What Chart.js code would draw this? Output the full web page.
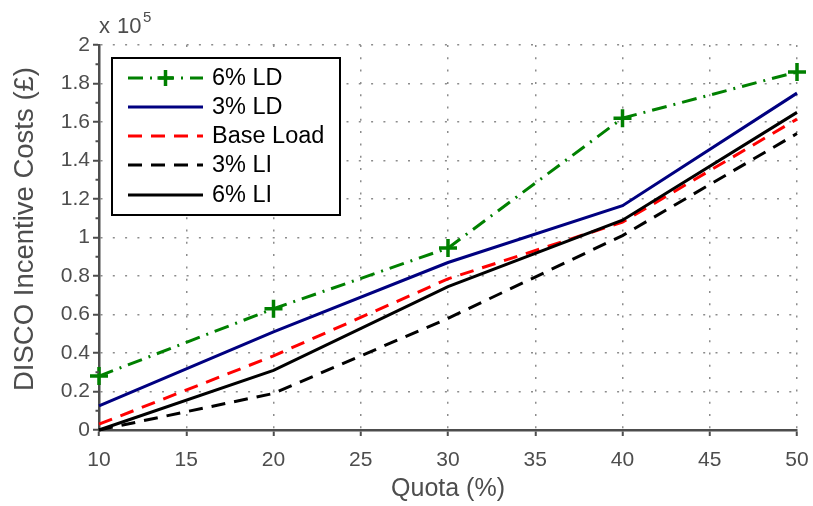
<!DOCTYPE html>
<html lang="en">
<head>
<meta charset="UTF-8">
<title>DISCO Incentive Costs vs Quota</title>
<script src="https://cdn.jsdelivr.net/npm/chart.js@4"></script>
<style>
    body { margin: 0; background: #fff; }
    #wrap { width: 813px; height: 506px; }
</style>
</head>
<body>
<div id="wrap"><canvas id="costChart" width="813" height="506"></canvas></div>
<script>
// values in units of 10^5 pounds
var quota = [10, 20, 30, 40, 50];
var ld6 = [0.28, 0.63, 0.945, 1.62, 1.86];
var ld3 = [0.125, 0.51, 0.87, 1.165, 1.75];
var baseLoad = [0.03, 0.385, 0.785, 1.08, 1.615];
var li3 = [0.0, 0.19, 0.58, 1.01, 1.54];
var li6 = [0.0, 0.31, 0.745, 1.09, 1.65];
var names = ['6% LD', '3% LD', 'Base Load', '3% LI', '6% LI'];

var fontFam = '"Liberation Sans", Arial, Helvetica, sans-serif';
var gray = '#4d4d4d';

function pts(vals) {
    return quota.map(function (q, i) { return { x: q, y: vals[i] }; });
}

var styles = [
    { color: '#008000', dash: [15, 7, 2, 7], marker: true },
    { color: '#000080', dash: [] },
    { color: '#ff0000', dash: [14, 9] },
    { color: '#000000', dash: [14, 9] },
    { color: '#000000', dash: [] }
];
var series = [ld6, ld3, baseLoad, li3, li6];

var datasets = series.map(function (vals, i) {
    var s = styles[i];
    return {
        label: names[i],
        data: pts(vals),
        borderColor: s.color,
        backgroundColor: s.color,
        borderWidth: 3,
        borderDash: s.dash,
        tension: 0,
        fill: false,
        pointStyle: 'cross',
        pointRadius: s.marker ? 9 : 0,
        pointBorderWidth: 3.5,
        pointBorderColor: s.color,
        clip: false,
        order: 4 - i
    };
});

// y title, y minor ticks, "x 10^5" and the boxed legend
var extras = {
    id: 'extras',
    afterDraw: function (chart) {
        var ctx = chart.ctx;
        var ys = chart.scales.y;
        var left = chart.chartArea.left;
        ctx.save();

        ctx.strokeStyle = gray;
        ctx.lineWidth = 2;
        for (var v = 0.1; v < 2; v += 0.2) {
            var py = ys.getPixelForValue(v);
            ctx.beginPath();
            ctx.moveTo(left, py);
            ctx.lineTo(left - 3.5, py);
            ctx.stroke();
        }

        ctx.fillStyle = gray;
        ctx.save();
        ctx.translate(25, 229);
        ctx.rotate(-Math.PI / 2);
        ctx.font = '27.5px ' + fontFam;
        ctx.textAlign = 'center';
        ctx.textBaseline = 'middle';
        ctx.fillText('DISCO Incentive Costs (\u00a3)', 0, 0);
        ctx.restore();

        ctx.textBaseline = 'alphabetic';
        ctx.textAlign = 'left';
        ctx.font = '22px ' + fontFam;
        ctx.fillText('x', 99, 33);
        ctx.fillText('10', 117, 33);
        ctx.font = '15px ' + fontFam;
        ctx.fillText('5', 143, 22);

        // legend
        var bx = 112, by = 58, bw = 228, bh = 157;
        ctx.fillStyle = '#fff';
        ctx.fillRect(bx, by, bw, bh);
        ctx.strokeStyle = '#000';
        ctx.lineWidth = 2;
        ctx.setLineDash([]);
        ctx.strokeRect(bx, by, bw, bh);

        var rows = [78, 107, 136, 165, 195];
        ctx.font = '23.5px ' + fontFam;
        ctx.textBaseline = 'middle';
        styles.forEach(function (s, i) {
            var ry = rows[i];
            ctx.strokeStyle = s.color;
            ctx.lineWidth = 3;
            ctx.setLineDash(s.dash);
            ctx.beginPath();
            ctx.moveTo(128, ry);
            ctx.lineTo(203, ry);
            ctx.stroke();
            ctx.setLineDash([]);
            if (s.marker) {
                ctx.lineWidth = 3.5;
                ctx.beginPath();
                ctx.moveTo(165.5 - 8, ry); ctx.lineTo(165.5 + 8, ry);
                ctx.moveTo(165.5, ry - 8); ctx.lineTo(165.5, ry + 8);
                ctx.stroke();
            }
            ctx.fillStyle = '#000';
            ctx.fillText(names[i], 212, ry + 1);
        });
        ctx.restore();
    }
};

var ctx = document.getElementById('costChart').getContext('2d');
var costChart = new Chart(ctx, {
    type: 'line',
    data: { datasets: datasets },
    plugins: [extras],
    options: {
        responsive: false,
        animation: false,
        devicePixelRatio: 1,
        layout: { padding: { top: 45, right: 16, bottom: 0, left: 0 } },
        plugins: {
            legend: { display: false },
            tooltip: { enabled: false }
        },
        scales: {
            x: {
                type: 'linear',
                min: 10,
                max: 50,
                ticks: {
                    stepSize: 5,
                    color: gray,
                    padding: 12,
                    font: { family: fontFam, size: 21 }
                },
                grid: {
                    color: '#8c8c8c',
                    lineWidth: 1.5,
                    drawTicks: true,
                    tickLength: 6,
                    tickColor: gray,
                    tickWidth: 2
                },
                border: { display: true, color: gray, width: 2.5, dash: [2, 10.3] },
                title: {
                    display: true,
                    text: 'Quota (%)',
                    color: gray,
                    font: { family: fontFam, size: 25 },
                    padding: { top: 0, bottom: 2 }
                },
                afterFit: function (s) {
                    s.height = 76;
                    s.paddingLeft = 0;
                    s.paddingRight = 0;
                }
            },
            y: {
                min: 0,
                max: 2,
                ticks: {
                    stepSize: 0.2,
                    color: gray,
                    padding: 3,
                    font: { family: fontFam, size: 21 },
                    callback: function (v) { return String(parseFloat(v.toFixed(1))); }
                },
                grid: {
                    color: '#8c8c8c',
                    lineWidth: 1.5,
                    drawTicks: true,
                    tickLength: 6,
                    tickColor: gray,
                    tickWidth: 2
                },
                border: { display: true, color: gray, width: 2.5, dash: [2, 10.3] },
                afterFit: function (s) {
                    s.width = 99;
                    s.paddingTop = 0;
                    s.paddingBottom = 0;
                }
            }
        }
    }
});
</script>
</body>
</html>
